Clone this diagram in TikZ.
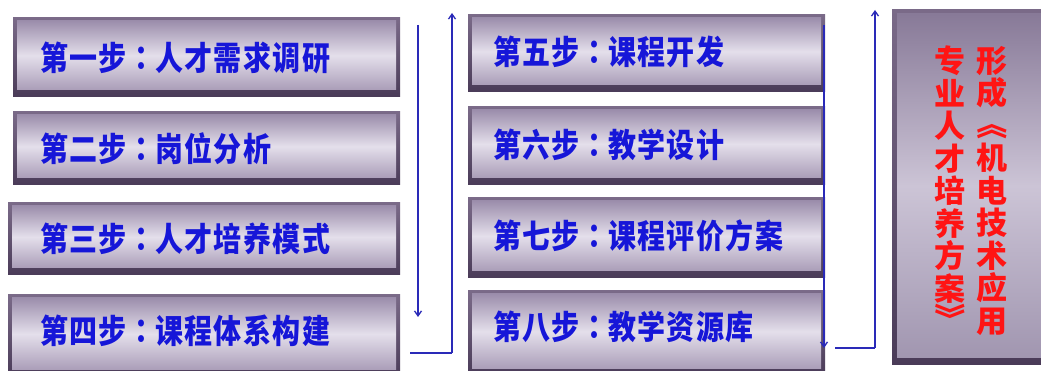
\documentclass[tikz,border=0pt]{standalone}
\usepackage{fontspec}
\newfontfamily\cjk{Noto Sans CJK SC}
\newfontfamily\cjktc{Noto Sans CJK TC}
\usetikzlibrary{arrows.meta}
\definecolor{bevout}{HTML}{4A3B58}
\definecolor{bevouttop}{HTML}{7A6A88}
\definecolor{bevtop}{HTML}{9C8EAC}
\definecolor{bevmid}{HTML}{E4DFEB}
\definecolor{bevbot}{HTML}{AA9DB8}
\definecolor{restop}{HTML}{887A98}
\definecolor{resmid}{HTML}{CCC4D6}
\definecolor{resbot}{HTML}{A196B0}
\definecolor{txtblue}{HTML}{1616D8}
\definecolor{txtred}{HTML}{FF1414}
\definecolor{linkblue}{HTML}{2A2AB8}
\newcommand{\stepcolon}{{\cjktc\bfseries ：}}
\newcommand{\stxt}[1]{\scalebox{1}[1.18]{#1}}
\tikzset{
  stepbox/.style={inner sep=0pt, outer sep=0pt, path picture={
    \shade[top color=bevouttop, bottom color=bevout] (path picture bounding box.south west) rectangle (path picture bounding box.north east);
    \shade[top color=bevtop, bottom color=bevbot, middle color=bevmid]
      ([shift={(4,7)}]path picture bounding box.south west) rectangle ([shift={(-4,-3)}]path picture bounding box.north east);
  }},
  resultbox/.style={inner sep=0pt, outer sep=0pt, path picture={
    \shade[top color=bevouttop, bottom color=bevout] (path picture bounding box.south west) rectangle (path picture bounding box.north east);
    \shade[top color=restop, bottom color=resbot, middle color=resmid]
      ([shift={(5,7)}]path picture bounding box.south west) rectangle ([shift={(-5,-4)}]path picture bounding box.north east);
  }},
  steptext/.style={anchor=west, inner sep=0pt, text=txtblue, font=\cjk\bfseries\fontsize{28}{31}\selectfont\addfontfeature{LetterSpace=5}},
  vtext/.style={anchor=north, inner sep=0pt, text=txtred, align=center, font=\cjk\bfseries\fontsize{31}{32.5}\selectfont},
  vbracket/.style={inner sep=0pt, rotate=-90, text=txtred, font=\cjk\bfseries\fontsize{31}{32.5}\selectfont},
  link/.style={draw=linkblue, line width=1.3pt},
  linkarrow/.style={link, -{Straight Barb[length=5pt,width=7pt]}}
}
\begin{document}
\begin{tikzpicture}[x=1pt,y=1pt]
\useasboundingbox (0,0) rectangle (1041,371);
\fill[white] (0,0) rectangle (1041,371);
\clip (0,0) rectangle (1041,371);
% left column boxes
\node[stepbox, minimum width=387, minimum height=79] (b1) at (206.5,313.5) {};
\node[stepbox, minimum width=387, minimum height=73] (b2) at (206.5,222.5) {};
\node[stepbox, minimum width=392, minimum height=72] (b3) at (204,132) {};
\node[stepbox, minimum width=392, minimum height=82] (b4) at (204,35) {};
\node[steptext] (t1) at (40,313) {\stxt{第一步\stepcolon 人才需求调研}};
\node[steptext] (t2) at (40,222) {\stxt{第二步\stepcolon 岗位分析}};
\node[steptext] (t3) at (40,132) {\stxt{第三步\stepcolon 人才培养模式}};
\node[steptext] (t4) at (40,40) {\stxt{第四步\stepcolon 课程体系构建}};
% middle column boxes
\node[stepbox, minimum width=357, minimum height=77] (b5) at (646.5,317.5) {};
\node[stepbox, minimum width=357, minimum height=78] (b6) at (646.5,225) {};
\node[stepbox, minimum width=357, minimum height=80] (b7) at (646.5,133) {};
\node[stepbox, minimum width=357, minimum height=85] (b8) at (646.5,37.5) {};
\node[steptext] (t5) at (493,319) {\stxt{第五步\stepcolon 课程开发}};
\node[steptext] (t6) at (493,226) {\stxt{第六步\stepcolon 教学设计}};
\node[steptext] (t7) at (493,135) {\stxt{第七步\stepcolon 课程评价方案}};
\node[steptext] (t8) at (493,44) {\stxt{第八步\stepcolon 教学资源库}};
% result box
\node[resultbox, minimum width=154, minimum height=355] (r) at (969,183.5) {};
\node[vtext] (rc1) at (992,325) {形\\成\\\phantom{机}\\机\\电\\技\\术\\应\\用};
\node[vtext] (rc2) at (950,325) {专\\业\\人\\才\\培\\养\\方\\案\\\phantom{案}};
\node[vbracket] (rb1) at (992,246.5) {《};
\node[vbracket] (rb2) at (950,51.5) {》};
% connectors
\coordinate (a1s) at (418,346);
\coordinate (a1e) at (418,54);
\coordinate (h1a) at (410,18);
\coordinate (h1b) at (452,18);
\coordinate (a2e) at (452,358);
\coordinate (a3s) at (824,346);
\coordinate (a3e) at (824,23);
\coordinate (h2a) at (835,23);
\coordinate (h2b) at (875,23);
\coordinate (a4e) at (875,361);
\draw[linkarrow] (a1s) -- (a1e);
\draw[link] (h1a) -- (h1b);
\draw[linkarrow] (h1b) -- (a2e);
\draw[linkarrow] (a3s) -- (a3e);
\draw[link] (h2a) -- (h2b);
\draw[linkarrow] (h2b) -- (a4e);
\end{tikzpicture}
\end{document}
